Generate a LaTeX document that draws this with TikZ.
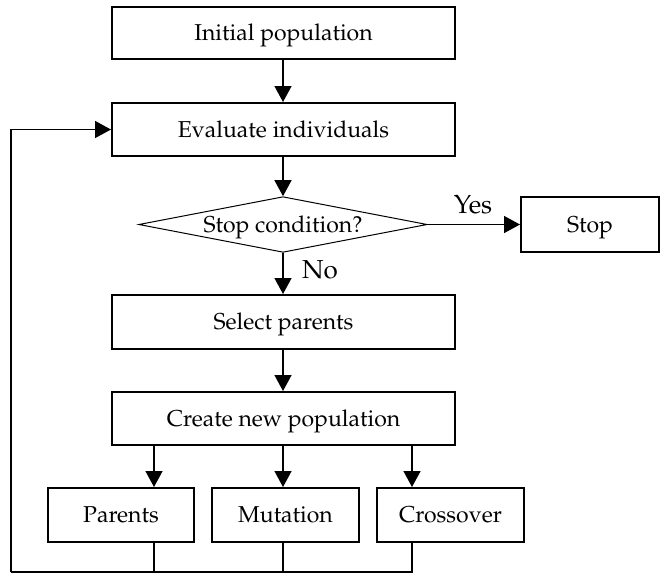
\documentclass[tikz,border=0pt]{standalone}
\usepackage[T1]{fontenc}
\usepackage{mathpazo}
\usetikzlibrary{shapes.geometric,arrows.meta}
\begin{document}
\begin{tikzpicture}[x=1pt,y=-1pt,
  box/.style={draw,line width=2pt,rectangle,inner sep=0pt,text height=20pt,text depth=5pt,font=\fontsize{23}{27}\selectfont},
  dec/.style={draw,line width=1pt,diamond,inner sep=0pt,text height=20pt,text depth=5pt,minimum width=285pt,minimum height=55pt,aspect=5.18,font=\fontsize{23}{27}\selectfont},
  arr/.style={line width=1.5pt,-{Triangle[width=17pt,length=16pt]}},
  ln/.style={line width=1.5pt},
  lbl/.style={font=\fontsize{26}{30}\selectfont,inner sep=0pt}]
\useasboundingbox (0,0) rectangle (661,574);
\node[box,minimum width=343pt,minimum height=52pt] (init) at (283.5,33) {Initial population};
\node[box,minimum width=343pt,minimum height=53pt] (eval) at (283.5,129.5) {Evaluate individuals};
\node[dec] (stopc) at (283,224.5) {Stop condition?};
\node[box,minimum width=138pt,minimum height=55pt] (stop) at (590,224.5) {Stop};
\node[box,minimum width=343pt,minimum height=54pt] (sel) at (283.5,322) {Select parents};
\node[box,minimum width=343pt,minimum height=53pt] (create) at (283.5,418.5) {Create new population};
\node[box,minimum width=146pt,minimum height=54pt] (par) at (121,515) {Parents};
\node[box,minimum width=147pt,minimum height=54pt] (mut) at (285.5,515) {Mutation};
\node[box,minimum width=147pt,minimum height=54pt] (cro) at (450.5,515) {Crossover};
\coordinate (c1) at (154,572);
\coordinate (c2) at (283,572);
\coordinate (c3) at (412,572);
\coordinate (cl) at (11,572);
\node[lbl] (yes) at (473,205) {Yes};
\node[lbl] (no) at (320,270) {No};
\draw[arr] (init.south -| c2) -- (eval.north -| c2);
\draw[arr] (eval.south -| c2) -- (stopc.north);
\draw[arr] (stopc.east) -- (stop.west);
\draw[arr] (stopc.south) -- (sel.north -| c2);
\draw[arr] (sel.south -| c2) -- (create.north -| c2);
\draw[arr] (create.south -| c1) -- (par.north -| c1);
\draw[arr] (create.south -| c2) -- (mut.north -| c2);
\draw[arr] (create.south -| c3) -- (cro.north -| c3);
\draw[ln] (par.south -| c1) -- (c1);
\draw[ln] (mut.south -| c2) -- (c2);
\draw[ln] (cro.south -| c3) -- (c3) -- (cl);
\draw[arr] (cl) |- (eval.west);
\end{tikzpicture}
\end{document}
